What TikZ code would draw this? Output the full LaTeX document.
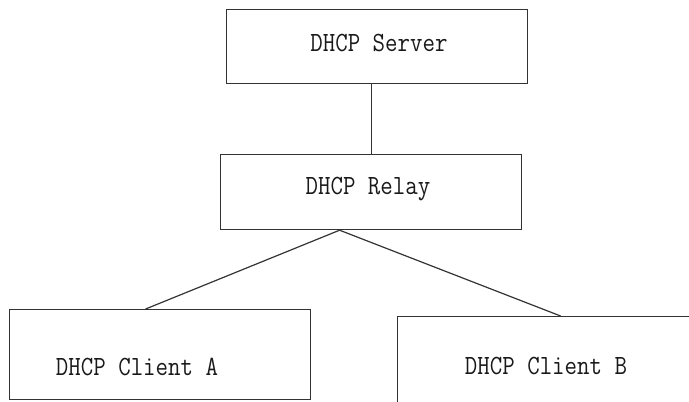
\documentclass[tikz,border=0pt]{standalone}
\usepackage{tikz}
\usepackage{graphicx}
\usetikzlibrary{positioning}

\newcommand{\tallmono}[1]{\scalebox{1}[1.15]{#1}}

\begin{document}
\begin{tikzpicture}[
      x=1pt, y=-1pt,
      box/.style={rectangle, draw=black!80, line width=1.2pt, minimum width=301pt, inner sep=0pt, anchor=north west},
      lbl/.style={font=\fontsize{24.2pt}{28pt}\selectfont\ttfamily, text=black!90, inner sep=0pt},
      link/.style={line width=1.2pt, black!80},
  ]
  \useasboundingbox (0,0) rectangle (689,402);
  \clip (0,0) rectangle (689,402);

  % Boxes
  \node[box, minimum height=74pt] (srv) at (226,9) {};
  \node[box, minimum height=75pt] (rly) at (220,154) {};
  \node[box, minimum height=90pt] (cla) at (9,309) {};
  \node[box, minimum height=120pt] (clb) at (397,316) {};

  % Labels
  \node[lbl] (srvtxt) at (379,43) {\tallmono{DHCP Server}};
  \node[lbl] (rlytxt) at (368,189) {\tallmono{DHCP Relay}};
  \node[lbl] (clatxt) at (137,367) {\tallmono{DHCP Client A}};
  \node[lbl] (clbtxt) at (546,366) {\tallmono{DHCP Client B}};

  % Links
  \draw[link] ([xshift=-5.5pt]srv.south) -- ([xshift=0.5pt]rly.north);
  \draw[link] ([xshift=-31.5pt]rly.south) -- ([xshift=-14.5pt]cla.north);
  \draw[link] ([xshift=-31.5pt]rly.south) -- ([xshift=12.5pt]clb.north);

  \end{tikzpicture}
\end{document}
